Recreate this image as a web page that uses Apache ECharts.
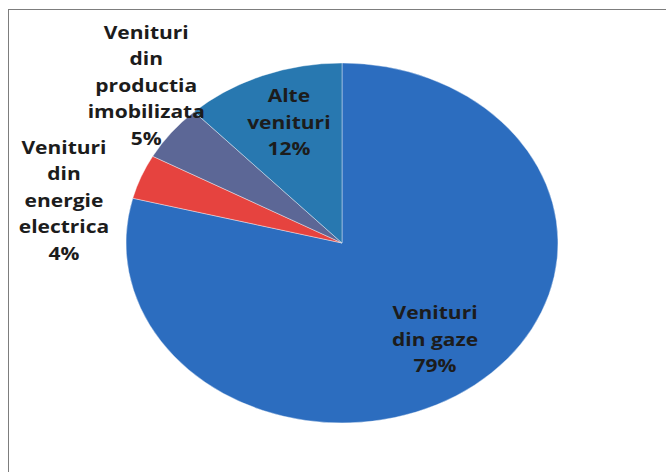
<!DOCTYPE html>
<html>
<head>
<meta charset="utf-8">
<script src="https://cdn.jsdelivr.net/npm/echarts@6/dist/echarts.min.js"></script>
<style>
  html, body { margin: 0; padding: 0; background: #fff; }
  #wrap { position: relative; width: 666px; height: 472px; overflow: hidden; background: #fff; }
  #frame { position: absolute; left: 8px; top: 9px; width: 700px; height: 500px; border: 1.5px solid #7d7d7d; box-sizing: border-box; }
  /* the scanned original is stretched horizontally, so the pie is drawn round and widened */
  #chart { position: absolute; left: 0; top: 0; width: 555px; height: 472px; transform: scaleX(1.2); transform-origin: 0 0; }
</style>
</head>
<body>
<div id="wrap">
  <div id="frame"></div>
  <div id="chart"></div>
</div>
<script>
// venituri - structura
const categories = [
  'Venituri\ndin gaze',
  'Venituri\ndin\nenergie\nelectrica',
  'Venituri\ndin\nproductia\nimobilizata',
  'Alte\nvenituri'
];
const values = [79, 4, 5, 12];
const colors = ['#2c6dbf', '#e6433f', '#5c6796', '#2878b0'];

// where each label sits: fraction of radius, and angle shift in degrees
const labelRadius = [0.686, 1.309, 1.262, 0.716];
const labelShift = [-1.1, -11.1, 6.3, 1.5];

const cx = 285, cy = 243, R = 180;

const total = values.reduce((a, b) => a + b, 0);
const midAngles = [];
let acc = 0;
values.forEach(v => {
  midAngles.push((acc + v / 2) / total * 360);
  acc += v;
});

const chart = echarts.init(document.getElementById('chart'), null, { renderer: 'svg' });

const option = {
  animation: false,
  series: [{
    type: 'pie',
    center: [cx, cy],
    radius: R,
    startAngle: 90,
    clockwise: true,
    avoidLabelOverlap: false,
    itemStyle: {
      borderColor: 'rgba(255,255,255,0.45)',
      borderWidth: 0.8
    },
    label: {
      show: true,
      formatter: '{b}\n{d}%',
      fontFamily: '"Open Sans", sans-serif',
      fontWeight: 'bold',
      fontSize: 17.5,
      lineHeight: 26.5,
      color: '#1c1c1c',
      align: 'center'
    },
    labelLine: { show: false },
    labelLayout: function (p) {
      const i = p.dataIndex;
      const a = (midAngles[i] + labelShift[i]) * Math.PI / 180;
      const r = R * labelRadius[i];
      return {
        x: cx + r * Math.sin(a),
        y: cy - r * Math.cos(a),
        align: 'center',
        verticalAlign: 'middle'
      };
    },
    data: categories.map((c, i) => ({
      name: c,
      value: values[i],
      itemStyle: { color: colors[i] }
    }))
  }]
};

chart.setOption(option);
</script>
</body>
</html>
